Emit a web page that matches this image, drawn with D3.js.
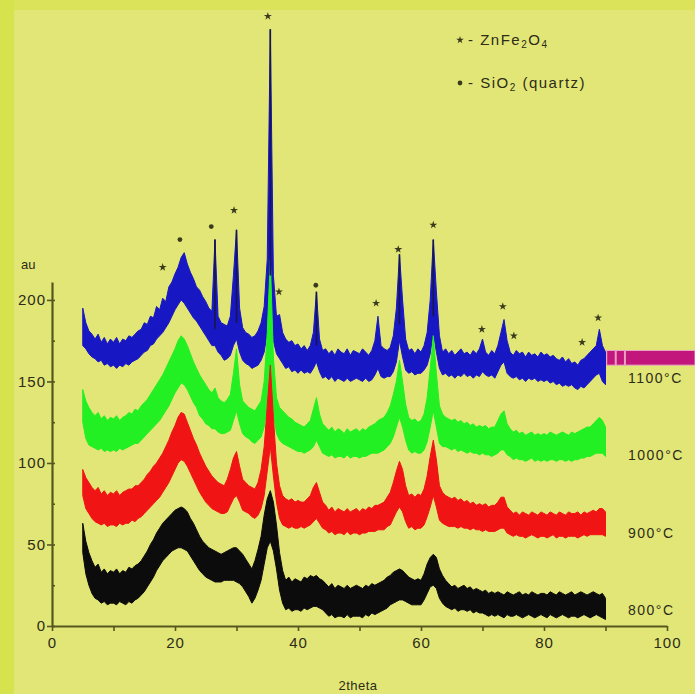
<!DOCTYPE html>
<html>
<head>
<meta charset="utf-8">
<script src="https://cdn.jsdelivr.net/npm/d3@7"></script>
<style>
  body { margin: 0; padding: 0; background: #e2e677; }
  svg { display: block; }
  text { font-family: "Liberation Sans", Arial, sans-serif; fill: #2c2c18; }
</style>
</head>
<body>
<script>
// XRD patterns of ZnFe2O4 / SiO2 samples, 4 temperatures, stacked
// each trace is kept as upper and lower edge of the noisy band, every 0.5 deg from 5 to 90

var blueHi = [
  195, 186, 181, 179, 176, 179, 174, 177, 173, 176,
  174, 177, 173, 176, 175, 178, 177, 179, 181, 182,
  186, 185, 190, 189, 196, 194, 201, 199, 208, 211,
  216, 220, 226, 229, 222, 217, 213, 208, 206, 202,
  199, 195, 193, 237, 190, 186, 185, 184, 190, 215,
  243, 195, 183, 180, 179, 177, 178, 181, 186, 196,
  225, 366, 215, 190, 191, 180, 176, 174, 175, 172,
  173, 170, 172, 169, 172, 180, 205, 176, 169, 170,
  167, 169, 166, 170, 168, 167, 170, 166, 169, 168,
  167, 170, 168, 166, 169, 175, 190, 172, 170, 169,
  171, 178, 195, 228, 200, 176, 169, 170, 167, 170,
  168, 172, 180, 200, 237, 205, 178, 168, 170, 167,
  169, 166, 168, 170, 167, 168, 166, 169, 167, 170,
  176, 168, 166, 169, 167, 172, 180, 188, 175, 168,
  166, 169, 167, 168, 165, 168, 166, 167, 165, 168,
  166, 167, 165, 166, 164, 163, 165, 162, 164, 161,
  162, 160, 163, 164, 166, 168, 170, 172, 182, 172,
  168];
var blueLo = [
  172, 170, 167, 165, 164, 162, 163, 160, 161, 159,
  160, 158, 160, 159, 161, 160, 162, 163, 164, 166,
  168, 169, 172, 173, 176, 178, 180, 183, 186, 190,
  194, 197, 200, 198, 195, 192, 189, 187, 184, 181,
  178, 175, 172, 172, 168, 166, 163, 164, 166, 172,
  176, 168, 163, 161, 160, 158, 159, 160, 163, 168,
  180, 205, 175, 167, 164, 161, 158, 159, 156, 157,
  155, 157, 155, 156, 155, 158, 162, 156, 152, 153,
  151, 153, 150, 152, 151, 150, 152, 150, 151, 152,
  151, 150, 152, 150, 151, 154, 158, 153, 152, 153,
  153, 156, 162, 175, 165, 157, 155, 156, 154, 155,
  155, 157, 160, 167, 180, 168, 158, 154, 155, 153,
  154, 152, 154, 153, 155, 153, 154, 152, 154, 153,
  156, 154, 153, 154, 152, 156, 160, 162, 155, 153,
  152, 153, 151, 152, 150, 152, 151, 152, 150, 151,
  150, 151, 149, 150, 148, 149, 147, 148, 147, 148,
  146, 145, 147, 146, 148, 150, 152, 154, 155, 150,
  148];

var greenHi = [
  145, 138, 134, 131, 129, 131, 127, 129, 126, 128,
  127, 129, 126, 128, 129, 131, 130, 133, 132, 135,
  137, 139, 142, 145, 148, 151, 154, 158, 162, 166,
  170, 175, 178, 176, 172, 167, 162, 158, 154, 151,
  148, 145, 143, 146, 140, 138, 137, 139, 142, 155,
  170, 148, 138, 136, 134, 133, 132, 135, 138, 150,
  180, 225, 165, 140, 134, 132, 130, 128, 127, 125,
  124, 123, 122, 124, 126, 133, 140, 130, 124, 122,
  120, 122, 119, 121, 120, 118, 121, 119, 120, 121,
  119, 121, 120, 122, 123, 124, 126, 127, 128, 131,
  135, 142, 150, 163, 150, 136, 128, 126, 127, 125,
  126, 130, 140, 158, 178, 155, 135, 130, 128, 127,
  126, 127, 125, 126, 124, 125, 123, 124, 122, 123,
  122, 123, 121, 122, 122, 126, 130, 132, 124, 121,
  119, 120, 118, 119, 117, 118, 119, 117, 118, 117,
  118, 117, 119, 118, 117, 118, 119, 118, 117, 119,
  118, 119, 120, 121, 122, 122, 124, 126, 128, 126,
  122];
var greenLo = [
  125, 115, 111, 110, 109, 108, 109, 107, 108, 107,
  108, 107, 109, 108, 109, 110, 111, 112, 112, 114,
  116, 118, 120, 122, 124, 126, 129, 132, 135, 139,
  143, 146, 149, 148, 145, 141, 137, 134, 129, 127,
  124, 123, 121, 121, 119, 118, 118, 119, 120, 126,
  132, 124, 118, 116, 115, 113, 112, 114, 116, 122,
  135, 150, 130, 118, 114, 112, 111, 110, 109, 108,
  107, 107, 106, 107, 108, 110, 114, 110, 106, 105,
  104, 105, 103, 104, 104, 103, 105, 103, 104, 104,
  103, 104, 104, 105, 106, 106, 106, 107, 108, 110,
  112, 116, 122, 128, 122, 114, 108, 106, 107, 106,
  106, 108, 113, 122, 132, 122, 112, 110, 110, 109,
  108, 109, 107, 108, 107, 106, 107, 106, 106, 105,
  106, 105, 105, 104, 105, 106, 108, 108, 105, 104,
  102, 103, 102, 102, 101, 102, 103, 101, 102, 101,
  102, 101, 102, 102, 101, 102, 102, 101, 102, 101,
  102, 102, 103, 103, 104, 104, 105, 106, 106, 106,
  104];

var redHi = [
  96, 91, 88, 85, 83, 85, 81, 83, 80, 82,
  81, 83, 80, 82, 83, 84, 84, 86, 86, 88,
  90, 93, 95, 98, 100, 103, 106, 110, 114, 119,
  123, 128, 131, 130, 125, 120, 115, 111, 106, 102,
  98, 95, 92, 90, 88, 87, 86, 90, 96, 103,
  107, 98, 90, 88, 86, 85, 84, 88, 96, 110,
  135, 160, 128, 100, 86, 80, 78, 77, 78, 76,
  77, 76, 76, 78, 80, 85, 88, 82, 76, 74,
  71, 73, 70, 72, 71, 70, 72, 70, 71, 72,
  70, 72, 71, 73, 72, 74, 74, 75, 76, 79,
  82, 88, 95, 101, 96, 86, 80, 81, 79, 81,
  80, 84, 92, 104, 114, 102, 86, 82, 80, 79,
  78, 79, 77, 78, 76, 77, 75, 76, 74, 75,
  74, 75, 73, 74, 74, 76, 79, 79, 73, 71,
  69, 70, 68, 70, 69, 68, 70, 69, 68, 70,
  69, 68, 70, 69, 68, 70, 69, 68, 70, 69,
  69, 70, 68, 70, 69, 70, 71, 70, 72, 72,
  70];
var redLo = [
  80, 72, 69, 66, 64, 63, 62, 63, 61, 62,
  62, 61, 63, 62, 63, 63, 65, 64, 66, 67,
  69, 71, 73, 75, 77, 79, 82, 85, 88, 92,
  96, 100, 102, 101, 98, 94, 90, 86, 82, 79,
  76, 74, 72, 71, 70, 69, 69, 70, 74, 78,
  80, 76, 71, 70, 69, 67, 66, 68, 72, 80,
  95, 110, 92, 76, 66, 62, 61, 60, 61, 60,
  60, 61, 60, 61, 62, 64, 66, 63, 60, 59,
  57, 58, 56, 57, 57, 56, 58, 56, 57, 57,
  56, 57, 57, 58, 58, 58, 59, 59, 59, 61,
  62, 66, 70, 73, 70, 64, 60, 61, 59, 60,
  60, 62, 67, 73, 80, 73, 65, 63, 62, 61,
  61, 61, 60, 61, 60, 60, 59, 60, 59, 59,
  58, 59, 58, 58, 58, 59, 60, 60, 57, 56,
  55, 56, 55, 55, 54, 55, 56, 55, 54, 55,
  55, 54, 55, 56, 54, 55, 55, 54, 55, 55,
  55, 54, 55, 56, 55, 56, 56, 56, 56, 56,
  55];

var blackHi = [
  63, 52, 45, 40, 36, 38, 33, 35, 32, 34,
  33, 35, 32, 34, 33, 36, 35, 37, 38, 40,
  43, 46, 50, 53, 57, 60, 63, 65, 67, 69,
  71, 72, 73, 72, 70, 66, 63, 59, 55, 52,
  50, 48, 47, 46, 45, 44, 45, 46, 47, 48,
  48, 46, 44, 41, 38, 35, 40, 47, 55, 68,
  78, 83, 76, 62, 45, 34, 28, 30, 27, 29,
  28, 27, 30, 29, 31, 30, 31, 29, 28, 26,
  24, 26, 23, 25, 24, 23, 25, 23, 24, 25,
  24, 23, 25, 24, 26, 25, 26, 27, 28, 30,
  31, 33, 34, 35, 34, 32, 30, 29, 28, 29,
  28, 32, 38, 42, 44, 42, 35, 31, 28, 26,
  24, 25, 23, 24, 25, 23, 24, 22, 23, 22,
  21, 22, 20, 21, 20, 21, 20, 19, 21, 20,
  19, 20, 21, 19, 20, 19, 21, 20, 19, 20,
  20, 19, 21, 20, 19, 21, 20, 19, 20, 21,
  19, 20, 21, 20, 19, 20, 21, 20, 19, 20,
  17];
var blackLo = [
  45, 32, 25, 20, 17, 16, 14, 15, 13, 14,
  14, 13, 15, 14, 13, 15, 14, 16, 17, 19,
  21, 24, 27, 30, 34, 37, 40, 42, 44, 46,
  47, 48, 48, 47, 46, 43, 40, 37, 34, 32,
  30, 29, 28, 27, 27, 27, 28, 28, 28, 28,
  27, 26, 24, 21, 18, 14, 17, 22, 28, 38,
  48, 52, 46, 35, 22, 14, 10, 11, 9, 10,
  10, 9, 11, 10, 11, 12, 12, 11, 10, 8,
  6, 7, 5, 6, 6, 5, 7, 5, 6, 6,
  6, 5, 7, 6, 8, 7, 8, 9, 10, 11,
  13, 14, 15, 16, 16, 15, 14, 13, 13, 13,
  13, 16, 20, 24, 25, 23, 17, 14, 12, 11,
  10, 11, 9, 10, 10, 9, 10, 8, 9, 8,
  8, 7, 6, 7, 6, 7, 6, 5, 7, 6,
  6, 7, 6, 5, 6, 7, 6, 5, 6, 7,
  6, 5, 7, 6, 5, 6, 7, 6, 5, 6,
  6, 5, 6, 7, 6, 5, 6, 7, 6, 5,
  4];

var seriesNames = ["1100°C", "1000°C", "900°C", "800°C"];
var seriesColors = ["#1717c4", "#22f022", "#f01414", "#0c0c0c"];
// y value where the temperature label sits
var labelValues = [152, 105, 57, 10];

// sharp blue peaks get a dark core line
var blueSharp = [26.5, 30, 35.5, 43, 56.5, 62];

// peak markers (2theta, height) : z = ZnFe2O4, q = SiO2
var markT = [18.0, 20.8, 25.9, 29.6, 35.1, 36.9, 42.9, 52.7, 56.3, 62.0, 69.9, 73.3, 75.1, 86.2, 88.8];
var markV = [220, 237, 245, 255, 374, 205, 209, 198, 231, 246, 182, 196, 178, 174, 189];
var markType = ["z", "q", "q", "z", "z", "z", "q", "z", "z", "z", "z", "z", "z", "z", "z"];

var xTicks = [0, 10, 20, 30, 40, 50, 60, 70, 80, 90, 100];
var yTicks = [0, 25, 50, 75, 100, 125, 150, 175, 200];

var W = 695, H = 694;
var svg = d3.select("body").append("svg")
    .attr("width", W)
    .attr("height", H);

// background with the brighter strips on the left and top edge
svg.append("rect").attr("width", W).attr("height", H).attr("fill", "#e2e677");
svg.append("rect").attr("width", W).attr("height", 10).attr("fill", "#dbe35a");
svg.append("rect").attr("width", 14).attr("height", H).attr("fill", "#d7e34c");

var x = d3.scaleLinear().domain([0, 100]).range([52, 667]);
var y = d3.scaleLinear().domain([0, 211]).range([626, 282]);

var grid = d3.range(5, 90.001, 0.5);

var traces = [
  {hi: blueHi, lo: blueLo},
  {hi: greenHi, lo: greenLo},
  {hi: redHi, lo: redLo},
  {hi: blackHi, lo: blackLo}
];

var area = d3.area()
    .x(function(d, i) { return x(grid[i]); })
    .y0(function(d) { return y(d[0]); })
    .y1(function(d) { return y(d[1]); });

traces.forEach(function(t, k) {
  var pts = t.hi.map(function(v, i) { return [t.lo[i], v]; });
  svg.append("path")
      .datum(pts)
      .attr("d", area)
      .attr("fill", seriesColors[k])
      .attr("stroke", seriesColors[k])
      .attr("stroke-width", 1);
});

// dark cores of the narrow blue peaks
svg.selectAll(".core")
    .data(blueSharp)
    .enter()
    .append("line")
    .attr("x1", d => x(d))
    .attr("x2", d => x(d))
    .attr("y1", d => y(blueLo[Math.round((d - 5) * 2)] + 10))
    .attr("y2", d => y(blueHi[Math.round((d - 5) * 2)]))
    .attr("stroke", "#16164a")
    .attr("stroke-width", 1.6);

// magenta bar at the right of the 1100 trace
var bar = svg.append("g");
bar.append("rect")
    .attr("x", x(90.2)).attr("y", y(169))
    .attr("width", W - x(90.2)).attr("height", y(160) - y(169))
    .attr("fill", "#c3167c")
    .attr("stroke", "#eaa6c4").attr("stroke-width", 1);
[91.5, 93].forEach(function(t) {
  bar.append("rect")
      .attr("x", x(t)).attr("y", y(169))
      .attr("width", 2).attr("height", y(160) - y(169))
      .attr("fill", "#e9a0c0");
});

// axes
var xAxis = svg.append("g")
    .attr("transform", "translate(0," + y(0) + ")")
    .call(d3.axisBottom(x).tickValues(xTicks).tickSize(5).tickSizeOuter(0)
      .tickFormat(d => d % 20 === 0 ? d : ""));
xAxis.select(".domain").attr("stroke", "#56561f").attr("stroke-width", 2.2);
xAxis.selectAll(".tick line").attr("stroke", "#56561f").attr("stroke-width", 1.6);
xAxis.selectAll(".tick text")
    .attr("y", 11)
    .style("font-size", "15px")
    .style("letter-spacing", "1px")
    .attr("fill", "#2c2c18");

var yAxis = svg.append("g")
    .attr("transform", "translate(" + x(0) + ",0)")
    .call(d3.axisLeft(y).tickValues(yTicks).tickSizeOuter(0)
      .tickFormat(d => d % 50 === 0 ? d : ""));
yAxis.select(".domain").attr("stroke", "#56561f").attr("stroke-width", 2.2);
yAxis.selectAll(".tick line")
    .attr("stroke", "#56561f").attr("stroke-width", 1.6)
    .attr("x1", 3)
    .attr("x2", d => d % 50 === 0 ? -5 : 0);
yAxis.selectAll(".tick text")
    .attr("x", -6)
    .style("font-size", "15px")
    .style("letter-spacing", "1px")
    .attr("fill", "#2c2c18");

svg.append("text")
    .attr("x", 358).attr("y", 690)
    .attr("text-anchor", "middle")
    .style("font-size", "13px")
    .style("letter-spacing", "0.5px")
    .text("2theta");

svg.append("text")
    .attr("x", 21).attr("y", 269)
    .style("font-size", "13px")
    .text("au");

// temperature labels
svg.selectAll(".tlab")
    .data(seriesNames)
    .enter()
    .append("text")
    .attr("x", 628)
    .attr("y", (d, i) => y(labelValues[i]) + 5)
    .style("font-size", "14px")
    .style("letter-spacing", "1.5px")
    .text(d => d);

// peak markers
svg.selectAll(".mark")
    .data(markT)
    .enter()
    .append("path")
    .attr("transform", (d, i) => "translate(" + x(d) + "," + y(markV[i]) + ")")
    .attr("d", (d, i) => d3.symbol()
        .type(markType[i] === "q" ? d3.symbolCircle : d3.symbolStar)
        .size(markType[i] === "q" ? 18 : 20)())
    .attr("fill", "#3a3a1c");

// legend
var legend = svg.append("g").attr("transform", "translate(460,0)");
var legItems = [
  {sym: "z", y: 45, label: ["- ZnFe", "2", "O", "4"]},
  {sym: "q", y: 88, label: ["- SiO", "2", " (quartz)"]}
];
legItems.forEach(function(it) {
  legend.append("path")
      .attr("transform", "translate(0," + (it.y - 5) + ")")
      .attr("d", d3.symbol().type(it.sym === "q" ? d3.symbolCircle : d3.symbolStar).size(18)())
      .attr("fill", "#3a3a1c");
  var t = legend.append("text")
      .attr("x", 8).attr("y", it.y)
      .style("font-size", "15px")
      .style("letter-spacing", "1.5px");
  it.label.forEach(function(s, j) {
    var sub = (s === "2" || s === "4");
    t.append("tspan")
        .attr("dy", sub ? 3 : (j > 0 ? -3 : 0))
        .style("font-size", sub ? "10px" : "15px")
        .text(s);
  });
});
</script>
</body>
</html>
